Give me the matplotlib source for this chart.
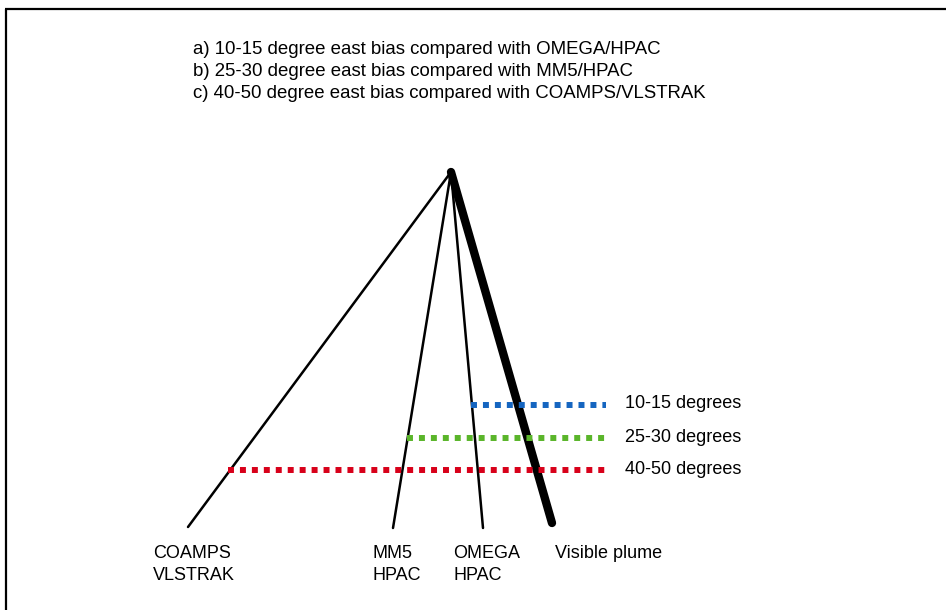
import matplotlib.pyplot as plt

# Plume spread sketch, pixel coordinates of the original drawing

apex = (451, 172)

model_top = ["COAMPS", "MM5", "OMEGA", "Visible plume"]
model_bottom = ["VLSTRAK", "HPAC", "HPAC", ""]
end_x = [188, 393, 483, 552]
end_y = [527, 528, 528, 523]
widths = [1.8, 1.8, 1.8, 6.0]
label_x = [153, 372, 453, 555]

bias_labels = ["10-15 degrees", "25-30 degrees", "40-50 degrees"]
bias_y = [405, 438, 470]
bias_start = [471, 407, 228]
bias_end = [606, 606, 606]
bias_colors = ["#1565c0", "#5ab52a", "#d8001a"]

notes = [
    "a) 10-15 degree east bias compared with OMEGA/HPAC",
    "b) 25-30 degree east bias compared with MM5/HPAC",
    "c) 40-50 degree east bias compared with COAMPS/VLSTRAK",
]

plt.rcParams["font.family"] = ["Liberation Sans", "DejaVu Sans"]

fig = plt.figure(figsize=(9.46, 6.10), dpi=100)
ax = fig.add_axes([0, 0, 1, 1])
ax.set_xlim(0, 946)
ax.set_ylim(610, 0)
ax.axis("off")

# frame (top and left only)
ax.plot([5, 946], [9, 9], color="black", lw=1.6, solid_capstyle="butt")
ax.plot([5.5, 5.5], [9, 610], color="black", lw=1.6, solid_capstyle="butt")

for i in range(len(notes)):
    ax.text(193, 50 + i * 21.5, notes[i], fontsize=13.4,
            va="center", ha="left")

for i in range(len(model_top)):
    ax.plot(
        [apex[0], end_x[i]],
        [apex[1], end_y[i]],
        color="black",
        lw=widths[i],
        solid_capstyle="round",
        zorder=2
    )
    ax.text(label_x[i], 553.5, model_top[i], fontsize=13,
            va="center", ha="left")
    ax.text(label_x[i], 575, model_bottom[i], fontsize=13,
            va="center", ha="left")

for i in range(len(bias_labels)):
    ax.plot(
        [bias_start[i], bias_end[i]],
        [bias_y[i], bias_y[i]],
        color=bias_colors[i],
        lw=4.3,
        linestyle=(0, (1, 1)),
        dash_capstyle="butt",
        zorder=3
    )
    ax.text(625, bias_y[i] - 1, bias_labels[i], fontsize=13,
            va="center", ha="left")

fig.savefig("out.png", dpi=100)
